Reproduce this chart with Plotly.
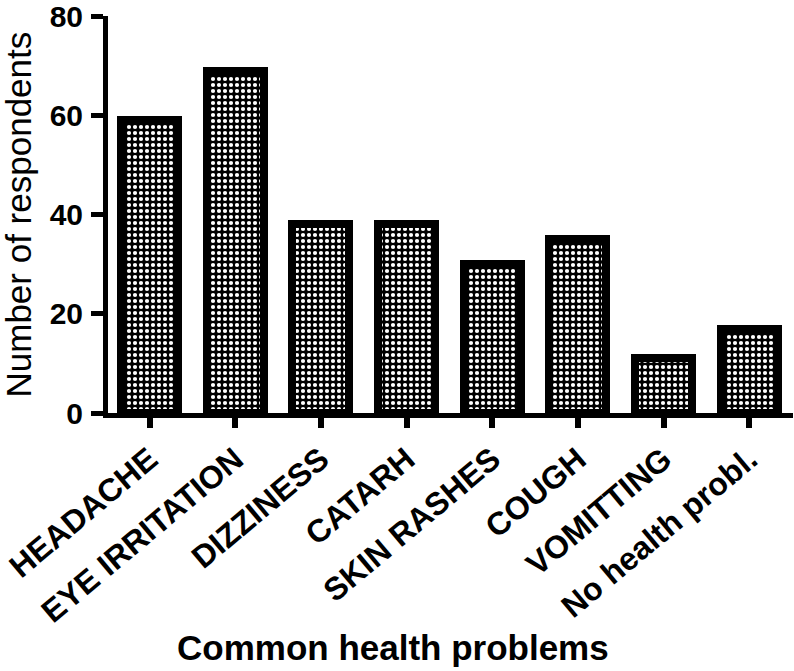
import plotly.graph_objects as go

categories = ["HEADACHE", "EYE IRRITATION", "DIZZINESS", "CATARH",
              "SKIN RASHES", "COUGH", "VOMITTING", "No health probl."]
respondents = [59, 69, 38, 38, 30, 35, 11, 17]
y_ticks = [0, 20, 40, 60, 80]
x_title = "Common health problems"
y_title = "Number of respondents"

FONT = "Arial, 'Liberation Sans', Helvetica, sans-serif"

fig = go.Figure(go.Bar(
    x=list(range(len(categories))),
    y=respondents,
    width=0.665,
    marker=dict(
        color="black",
        line=dict(color="black", width=8),
        pattern=dict(shape=".", bgcolor="black", fgcolor="white",
                     size=6, solidity=0.38, fillmode="replace"),
    ),
))

W, H = 794, 671
L, R, T, B = 108, 1, 16, 258

fig.update_layout(
    width=W, height=H,
    margin=dict(l=L, r=R, t=T, b=B, pad=0, autoexpand=False),
    plot_bgcolor="white", paper_bgcolor="white",
    showlegend=False,
    bargap=0,
    font=dict(family=FONT, color="black"),
)

fig.update_xaxes(
    range=[-0.485, 7.51],
    automargin=False,
    tickmode="array",
    tickvals=list(range(len(categories))),
    ticktext=categories,
    tickangle=-40,
    ticks="outside", ticklen=10, tickwidth=6, tickcolor="black",
    showline=True, linewidth=5, linecolor="black",
    showgrid=False, zeroline=False,
    ticklabeloverflow="allow",
    tickfont=dict(family=FONT, size=32, color="black", weight="bold"),
)
fig.update_yaxes(
    range=[0, 80.01],
    automargin=False,
    tickmode="array",
    tickvals=y_ticks,
    ticks="outside", ticklen=12, tickwidth=5, tickcolor="black",
    showline=True, linewidth=5, linecolor="black",
    showgrid=False, zeroline=False,
    ticklabelstandoff=2,
    ticklabeloverflow="allow",
    tickfont=dict(family=FONT, size=30, color="black", weight="bold"),
)

fig.add_annotation(
    text=y_title, xref="paper", yref="paper",
    x=(18 - L) / (W - L - R), y=0.5, xanchor="center", yanchor="middle",
    textangle=-90, showarrow=False,
    font=dict(family=FONT, size=35, color="black"),
)
fig.add_annotation(
    text=x_title, xref="paper", yref="paper",
    x=(393 - L) / (W - L - R), y=(H - B - 647) / (H - T - B),
    xanchor="center", yanchor="middle", showarrow=False,
    font=dict(family=FONT, size=35, color="black", weight="bold"),
)

fig.write_html(
    "out.html",
    config={"displayModeBar": False},
    post_script="document.body.style.margin='0';document.body.style.overflow='hidden';",
)
